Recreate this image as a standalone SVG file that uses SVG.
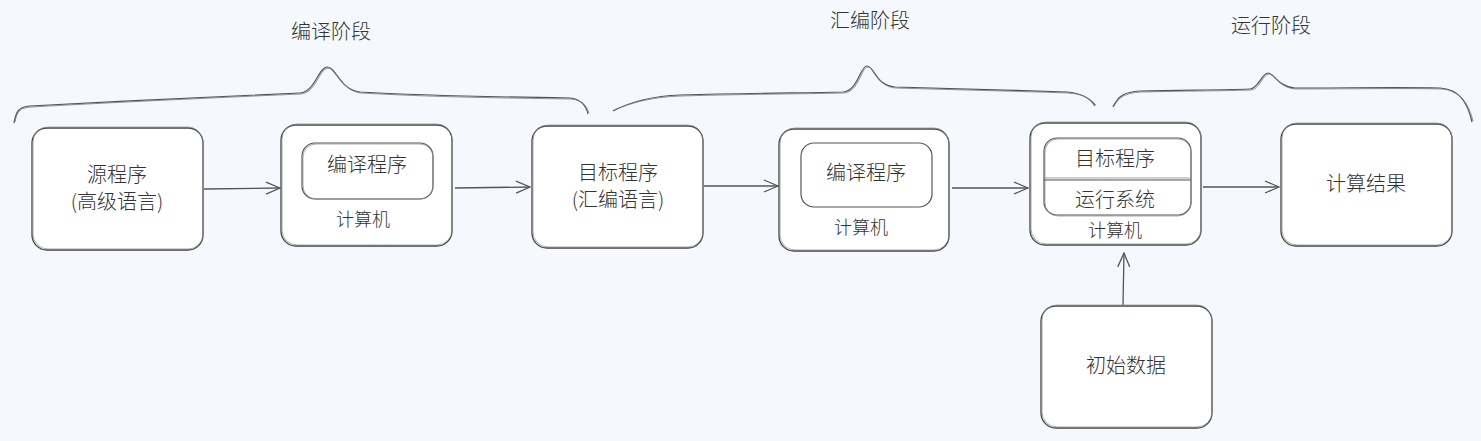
<svg xmlns="http://www.w3.org/2000/svg" width="1481" height="441" viewBox="0 0 1481 441">
<style>
.bg{fill:#f5f9fd}
.box{fill:#ffffff;stroke:#444;stroke-width:1.3}
.box2{fill:none;stroke:#888;stroke-width:0.7}
.inner{fill:#ffffff;stroke:#555;stroke-width:1.2}
.t{font-family:"Noto Sans CJK SC","Noto Sans",sans-serif;font-weight:300;fill:#333;text-anchor:middle}
.big{font-size:20px}
.sm{font-size:18px}
.brace{fill:none;stroke:#555;stroke-width:1.2}
.brace2{fill:none;stroke:#777;stroke-width:0.8}
.conn{fill:none;stroke:#555;stroke-width:1.3;marker-end:url(#ah)}
</style>
<defs>
<marker id="ah" viewBox="0 0 16 14" refX="15" refY="7" markerWidth="16" markerHeight="14" markerUnits="userSpaceOnUse" orient="auto">
<path d="M1,1 L15,7 L1,13" fill="none" stroke="#555" stroke-width="1.3"/>
</marker>
</defs>
<rect class="bg" x="0" y="0" width="1481" height="441"/>
<g id="braces">
<path class="brace" d="M14,123 C16,112 18,107 30,106 C120,101 230,96 300,93 C315,92 318,68 327,67 C336,67 340,90 360,92 C430,96 500,97 570,98 C582,99 586,106 588,114"/>
<path class="brace2" d="M15,122 C17,111 20,108 31,107 C121,102 231,97 301,94 C316,93 319,69 328,68 C337,68 341,91 361,93 C431,97 501,98 571,99 C583,100 587,107 589,113"/>
<text class="t big" x="331" y="39">编译阶段</text>
<path class="brace" d="M613,111 C630,102 650,96 680,95 C750,93 800,93 843,92 C858,91 860,66 867,66 C874,66 876,86 895,87 C960,89 1010,90 1067,92 C1082,93 1090,98 1095,106"/>
<path class="brace2" d="M614,110 C631,103 651,97 681,96 C751,94 801,94 844,93 C859,92 861,67 868,67 C875,67 877,87 896,88 C961,90 1011,91 1068,93 C1083,94 1091,99 1096,105"/>
<text class="t big" x="870" y="28">汇编阶段</text>
<path class="brace" d="M1113,107 C1118,96 1124,92 1140,91 C1180,90 1220,90 1250,89 C1258,89 1262,73 1268,73 C1274,73 1278,87 1295,88 C1350,88 1400,87 1440,88 C1460,89 1468,104 1472,122"/>
<path class="brace2" d="M1114,106 C1119,97 1125,93 1141,92 C1181,91 1221,91 1251,90 C1259,90 1263,74 1269,74 C1275,74 1279,88 1296,89 C1351,89 1401,88 1441,89 C1461,90 1469,105 1473,121"/>
<text class="t big" x="1271" y="33">运行阶段</text>
</g>
<g id="connectors">
<path class="conn" d="M204,189 L280,188"/>
<path class="conn" d="M455,188 L530,187"/>
<path class="conn" d="M704,186 L778,186"/>
<path class="conn" d="M952,188 L1028,188"/>
<path class="conn" d="M1203,187 L1279,187"/>
<path class="conn" d="M1123,305 L1124,253"/>
</g>
<g id="source">
<rect class="box" x="32" y="128" width="171" height="122" rx="15"/>
<rect class="box2" x="33" y="127" width="170" height="122" rx="15"/>
<text class="t big" x="117" y="182">源程序</text>
<text class="t big" x="117" y="209">(高级语言)</text>
</g>
<g id="computer1">
<rect class="box" x="281" y="125" width="171" height="121" rx="15"/>
<rect class="box2" x="282" y="124" width="170" height="121" rx="15"/>
<rect class="inner" x="302" y="143" width="131" height="56" rx="13"/>
<rect class="box2" x="303" y="144" width="130" height="55" rx="13"/>
<text class="t big" x="367" y="172">编译程序</text>
<text class="t sm" x="363" y="226">计算机</text>
</g>
<g id="target">
<rect class="box" x="532" y="126" width="171" height="122" rx="15"/>
<rect class="box2" x="533" y="125" width="170" height="122" rx="15"/>
<text class="t big" x="618" y="180">目标程序</text>
<text class="t big" x="618" y="207">(汇编语言)</text>
</g>
<g id="computer2">
<rect class="box" x="779" y="129" width="170" height="122" rx="15"/>
<rect class="box2" x="780" y="128" width="169" height="122" rx="15"/>
<rect class="inner" x="801" y="143" width="131" height="64" rx="13"/>
<text class="t big" x="866" y="180">编译程序</text>
<text class="t sm" x="861" y="234">计算机</text>
</g>
<g id="computer3">
<rect class="box" x="1030" y="123" width="171" height="122" rx="15"/>
<rect class="box2" x="1031" y="122" width="170" height="122" rx="15"/>
<rect class="inner" x="1044" y="138" width="147" height="77" rx="13"/>
<rect class="box2" x="1045" y="139" width="146" height="77" rx="13"/>
<line x1="1044" y1="180" x2="1191" y2="180" stroke="#555" stroke-width="1.2"/>
<line x1="1044" y1="178" x2="1191" y2="178" stroke="#888" stroke-width="0.8"/>
<text class="t big" x="1115" y="166">目标程序</text>
<text class="t big" x="1115" y="207">运行系统</text>
<text class="t sm" x="1115" y="237">计算机</text>
</g>
<g id="result">
<rect class="box" x="1281" y="124" width="171" height="122" rx="15"/>
<rect class="box2" x="1282" y="123" width="170" height="122" rx="15"/>
<text class="t big" x="1366" y="191">计算结果</text>
</g>
<g id="initdata">
<rect class="box" x="1041" y="306" width="171" height="122" rx="15"/>
<rect class="box2" x="1042" y="305" width="170" height="122" rx="15"/>
<text class="t big" x="1126" y="373">初始数据</text>
</g>
</svg>
